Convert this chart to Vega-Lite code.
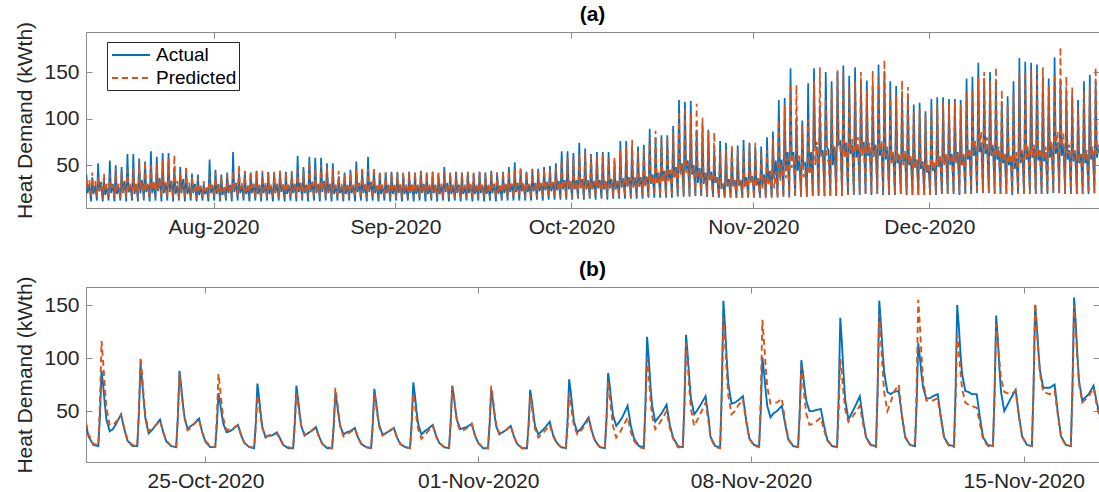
{
  "$schema": "https://vega.github.io/schema/vega-lite/v6.json",
  "background": "white",
  "padding": {"left": 14, "top": 3, "right": 1, "bottom": 2},
  "config": {
    "font": "Liberation Sans",
    "view": {"stroke": "#8c8c8c", "strokeWidth": 1},
    "concat": {"spacing": 20},
    "axis": {
      "grid": false,
      "domainColor": "#8c8c8c",
      "tickColor": "#8c8c8c",
      "tickSize": -6,
      "labelFont": "Liberation Sans",
      "labelFontSize": 21,
      "labelColor": "#262626",
      "titleFont": "Liberation Sans",
      "titleFontSize": 21,
      "titleFontWeight": "normal",
      "titleColor": "#262626"
    },
    "axisX": {"labelPadding": 14},
    "axisY": {"labelPadding": 13, "titlePadding": 8},
    "title": {"font": "Liberation Sans", "fontSize": 21, "fontWeight": "bold", "color": "#000000", "offset": -4},
    "legend": {
      "orient": "none",
      "legendX": 21,
      "legendY": 10,
      "fillColor": "white",
      "strokeColor": "#262626",
      "padding": 2,
      "symbolType": "M-1.9,0H1.9",
      "symbolSize": 400,
      "symbolStrokeWidth": 1.8,
      "symbolOffset": 11,
      "labelOffset": 14,
      "labelFont": "Liberation Sans",
      "labelFontSize": 19,
      "labelColor": "#000000",
      "rowPadding": 2
    }
  },
  "datasets": {
    "season": [
      {"t":"2020-07-10T03:00","a":12,"p":15},{"t":"2020-07-10T08:00","a":40,"p":36},{"t":"2020-07-10T13:00","a":20,"p":24},{"t":"2020-07-10T20:00","a":30,"p":34},
      {"t":"2020-07-11T03:00","a":11,"p":15},{"t":"2020-07-11T08:00","a":37,"p":42},{"t":"2020-07-11T13:00","a":19,"p":23},{"t":"2020-07-11T20:00","a":28,"p":33},
      {"t":"2020-07-12T03:00","a":12,"p":16},{"t":"2020-07-12T08:00","a":52,"p":38},{"t":"2020-07-12T13:00","a":22,"p":22},{"t":"2020-07-12T20:00","a":32,"p":30},
      {"t":"2020-07-13T03:00","a":11,"p":14},{"t":"2020-07-13T08:00","a":35,"p":41},{"t":"2020-07-13T13:00","a":18,"p":22},{"t":"2020-07-13T20:00","a":26,"p":30},
      {"t":"2020-07-14T03:00","a":12,"p":15},{"t":"2020-07-14T08:00","a":55,"p":40},{"t":"2020-07-14T13:00","a":20,"p":23},{"t":"2020-07-14T20:00","a":30,"p":28},
      {"t":"2020-07-15T03:00","a":11,"p":15},{"t":"2020-07-15T08:00","a":50,"p":46},{"t":"2020-07-15T13:00","a":19,"p":22},{"t":"2020-07-15T20:00","a":27,"p":30},
      {"t":"2020-07-16T03:00","a":12,"p":14},{"t":"2020-07-16T08:00","a":48,"p":42},{"t":"2020-07-16T13:00","a":20,"p":21},{"t":"2020-07-16T20:00","a":33,"p":29},
      {"t":"2020-07-17T03:00","a":11,"p":15},{"t":"2020-07-17T08:00","a":62,"p":45},{"t":"2020-07-17T13:00","a":21,"p":23},{"t":"2020-07-17T20:00","a":28,"p":30},
      {"t":"2020-07-18T03:00","a":12,"p":15},{"t":"2020-07-18T08:00","a":62,"p":48},{"t":"2020-07-18T13:00","a":19,"p":22},{"t":"2020-07-18T20:00","a":30,"p":31},
      {"t":"2020-07-19T03:00","a":11,"p":14},{"t":"2020-07-19T08:00","a":57,"p":53},{"t":"2020-07-19T13:00","a":20,"p":24},{"t":"2020-07-19T20:00","a":34,"p":32},
      {"t":"2020-07-20T03:00","a":12,"p":15},{"t":"2020-07-20T08:00","a":54,"p":54},{"t":"2020-07-20T13:00","a":21,"p":22},{"t":"2020-07-20T20:00","a":29,"p":30},
      {"t":"2020-07-21T03:00","a":11,"p":15},{"t":"2020-07-21T08:00","a":65,"p":50},{"t":"2020-07-21T13:00","a":20,"p":23},{"t":"2020-07-21T20:00","a":31,"p":33},
      {"t":"2020-07-22T03:00","a":12,"p":16},{"t":"2020-07-22T08:00","a":59,"p":51},{"t":"2020-07-22T13:00","a":22,"p":24},{"t":"2020-07-22T20:00","a":36,"p":34},
      {"t":"2020-07-23T03:00","a":11,"p":15},{"t":"2020-07-23T08:00","a":63,"p":55},{"t":"2020-07-23T13:00","a":20,"p":23},{"t":"2020-07-23T20:00","a":30,"p":32},
      {"t":"2020-07-24T03:00","a":12,"p":15},{"t":"2020-07-24T08:00","a":63,"p":58},{"t":"2020-07-24T13:00","a":21,"p":22},{"t":"2020-07-24T20:00","a":33,"p":31},
      {"t":"2020-07-25T03:00","a":11,"p":15},{"t":"2020-07-25T08:00","a":48,"p":61},{"t":"2020-07-25T13:00","a":19,"p":24},{"t":"2020-07-25T20:00","a":28,"p":33},
      {"t":"2020-07-26T03:00","a":12,"p":14},{"t":"2020-07-26T08:00","a":48,"p":42},{"t":"2020-07-26T13:00","a":20,"p":22},{"t":"2020-07-26T20:00","a":35,"p":30},
      {"t":"2020-07-27T03:00","a":11,"p":15},{"t":"2020-07-27T08:00","a":45,"p":49},{"t":"2020-07-27T13:00","a":19,"p":23},{"t":"2020-07-27T20:00","a":27,"p":31},
      {"t":"2020-07-28T03:00","a":12,"p":15},{"t":"2020-07-28T08:00","a":41,"p":38},{"t":"2020-07-28T13:00","a":20,"p":22},{"t":"2020-07-28T20:00","a":30,"p":29},
      {"t":"2020-07-29T03:00","a":11,"p":14},{"t":"2020-07-29T08:00","a":40,"p":36},{"t":"2020-07-29T13:00","a":18,"p":21},{"t":"2020-07-29T20:00","a":26,"p":28},
      {"t":"2020-07-30T03:00","a":12,"p":15},{"t":"2020-07-30T08:00","a":30,"p":33},{"t":"2020-07-30T13:00","a":19,"p":22},{"t":"2020-07-30T20:00","a":25,"p":28},
      {"t":"2020-07-31T03:00","a":11,"p":15},{"t":"2020-07-31T08:00","a":56,"p":38},{"t":"2020-07-31T13:00","a":20,"p":22},{"t":"2020-07-31T20:00","a":28,"p":29},
      {"t":"2020-08-01T03:00","a":12,"p":15},{"t":"2020-08-01T08:00","a":45,"p":42},{"t":"2020-08-01T13:00","a":19,"p":22},{"t":"2020-08-01T20:00","a":30,"p":30},
      {"t":"2020-08-02T03:00","a":11,"p":14},{"t":"2020-08-02T08:00","a":40,"p":38},{"t":"2020-08-02T13:00","a":18,"p":21},{"t":"2020-08-02T20:00","a":26,"p":28},
      {"t":"2020-08-03T03:00","a":12,"p":15},{"t":"2020-08-03T08:00","a":42,"p":40},{"t":"2020-08-03T13:00","a":20,"p":22},{"t":"2020-08-03T20:00","a":29,"p":29},
      {"t":"2020-08-04T03:00","a":11,"p":15},{"t":"2020-08-04T08:00","a":64,"p":44},{"t":"2020-08-04T13:00","a":21,"p":23},{"t":"2020-08-04T20:00","a":31,"p":30},
      {"t":"2020-08-05T03:00","a":12,"p":16},{"t":"2020-08-05T08:00","a":42,"p":50},{"t":"2020-08-05T13:00","a":20,"p":24},{"t":"2020-08-05T20:00","a":28,"p":31},
      {"t":"2020-08-06T03:00","a":12,"p":15},{"t":"2020-08-06T08:00","a":43,"p":44},{"t":"2020-08-06T13:00","a":19,"p":22},{"t":"2020-08-06T20:00","a":27,"p":29},
      {"t":"2020-08-07T03:00","a":11,"p":15},{"t":"2020-08-07T08:00","a":42,"p":43},{"t":"2020-08-07T13:00","a":20,"p":23},{"t":"2020-08-07T20:00","a":30,"p":30},
      {"t":"2020-08-08T03:00","a":12,"p":14},{"t":"2020-08-08T08:00","a":44,"p":43},{"t":"2020-08-08T13:00","a":19,"p":22},{"t":"2020-08-08T20:00","a":28,"p":29},
      {"t":"2020-08-09T03:00","a":11,"p":15},{"t":"2020-08-09T08:00","a":41,"p":44},{"t":"2020-08-09T13:00","a":20,"p":23},{"t":"2020-08-09T20:00","a":29,"p":31},
      {"t":"2020-08-10T03:00","a":12,"p":15},{"t":"2020-08-10T08:00","a":43,"p":42},{"t":"2020-08-10T13:00","a":19,"p":22},{"t":"2020-08-10T20:00","a":27,"p":29},
      {"t":"2020-08-11T03:00","a":11,"p":15},{"t":"2020-08-11T08:00","a":42,"p":43},{"t":"2020-08-11T13:00","a":20,"p":22},{"t":"2020-08-11T20:00","a":30,"p":30},
      {"t":"2020-08-12T03:00","a":12,"p":16},{"t":"2020-08-12T08:00","a":44,"p":44},{"t":"2020-08-12T13:00","a":21,"p":23},{"t":"2020-08-12T20:00","a":29,"p":31},
      {"t":"2020-08-13T03:00","a":11,"p":15},{"t":"2020-08-13T08:00","a":43,"p":42},{"t":"2020-08-13T13:00","a":19,"p":22},{"t":"2020-08-13T20:00","a":28,"p":29},
      {"t":"2020-08-14T03:00","a":12,"p":15},{"t":"2020-08-14T08:00","a":42,"p":44},{"t":"2020-08-14T13:00","a":20,"p":23},{"t":"2020-08-14T20:00","a":30,"p":30},
      {"t":"2020-08-15T03:00","a":11,"p":15},{"t":"2020-08-15T08:00","a":60,"p":45},{"t":"2020-08-15T13:00","a":21,"p":23},{"t":"2020-08-15T20:00","a":31,"p":30},
      {"t":"2020-08-16T03:00","a":12,"p":15},{"t":"2020-08-16T08:00","a":48,"p":44},{"t":"2020-08-16T13:00","a":20,"p":22},{"t":"2020-08-16T20:00","a":29,"p":29},
      {"t":"2020-08-17T03:00","a":11,"p":15},{"t":"2020-08-17T08:00","a":59,"p":54},{"t":"2020-08-17T13:00","a":21,"p":24},{"t":"2020-08-17T20:00","a":32,"p":31},
      {"t":"2020-08-18T03:00","a":12,"p":15},{"t":"2020-08-18T08:00","a":58,"p":47},{"t":"2020-08-18T13:00","a":20,"p":23},{"t":"2020-08-18T20:00","a":30,"p":30},
      {"t":"2020-08-19T03:00","a":11,"p":15},{"t":"2020-08-19T08:00","a":58,"p":50},{"t":"2020-08-19T13:00","a":21,"p":23},{"t":"2020-08-19T20:00","a":33,"p":31},
      {"t":"2020-08-20T03:00","a":12,"p":16},{"t":"2020-08-20T08:00","a":52,"p":48},{"t":"2020-08-20T13:00","a":20,"p":22},{"t":"2020-08-20T20:00","a":30,"p":30},
      {"t":"2020-08-21T03:00","a":11,"p":15},{"t":"2020-08-21T08:00","a":52,"p":46},{"t":"2020-08-21T13:00","a":19,"p":22},{"t":"2020-08-21T20:00","a":28,"p":29},
      {"t":"2020-08-22T03:00","a":12,"p":15},{"t":"2020-08-22T08:00","a":38,"p":44},{"t":"2020-08-22T13:00","a":20,"p":23},{"t":"2020-08-22T20:00","a":27,"p":30},
      {"t":"2020-08-23T03:00","a":11,"p":14},{"t":"2020-08-23T08:00","a":42,"p":40},{"t":"2020-08-23T13:00","a":19,"p":22},{"t":"2020-08-23T20:00","a":29,"p":28},
      {"t":"2020-08-24T03:00","a":12,"p":15},{"t":"2020-08-24T08:00","a":45,"p":42},{"t":"2020-08-24T13:00","a":20,"p":22},{"t":"2020-08-24T20:00","a":28,"p":29},
      {"t":"2020-08-25T03:00","a":11,"p":15},{"t":"2020-08-25T08:00","a":54,"p":45},{"t":"2020-08-25T13:00","a":21,"p":23},{"t":"2020-08-25T20:00","a":31,"p":30},
      {"t":"2020-08-26T03:00","a":12,"p":15},{"t":"2020-08-26T08:00","a":45,"p":48},{"t":"2020-08-26T13:00","a":20,"p":23},{"t":"2020-08-26T20:00","a":29,"p":31},
      {"t":"2020-08-27T03:00","a":11,"p":15},{"t":"2020-08-27T08:00","a":59,"p":46},{"t":"2020-08-27T13:00","a":21,"p":22},{"t":"2020-08-27T20:00","a":32,"p":30},
      {"t":"2020-08-28T03:00","a":12,"p":15},{"t":"2020-08-28T08:00","a":44,"p":48},{"t":"2020-08-28T13:00","a":20,"p":23},{"t":"2020-08-28T20:00","a":28,"p":30},
      {"t":"2020-08-29T03:00","a":11,"p":15},{"t":"2020-08-29T08:00","a":42,"p":43},{"t":"2020-08-29T13:00","a":19,"p":22},{"t":"2020-08-29T20:00","a":27,"p":29},
      {"t":"2020-08-30T03:00","a":12,"p":15},{"t":"2020-08-30T08:00","a":42,"p":42},{"t":"2020-08-30T13:00","a":20,"p":22},{"t":"2020-08-30T20:00","a":29,"p":29},
      {"t":"2020-08-31T03:00","a":11,"p":15},{"t":"2020-08-31T08:00","a":43,"p":42},{"t":"2020-08-31T13:00","a":19,"p":22},{"t":"2020-08-31T20:00","a":28,"p":29},
      {"t":"2020-09-01T03:00","a":12,"p":15},{"t":"2020-09-01T08:00","a":42,"p":43},{"t":"2020-09-01T13:00","a":20,"p":23},{"t":"2020-09-01T20:00","a":29,"p":30},
      {"t":"2020-09-02T03:00","a":11,"p":15},{"t":"2020-09-02T08:00","a":41,"p":42},{"t":"2020-09-02T13:00","a":19,"p":22},{"t":"2020-09-02T20:00","a":27,"p":29},
      {"t":"2020-09-03T03:00","a":12,"p":15},{"t":"2020-09-03T08:00","a":43,"p":43},{"t":"2020-09-03T13:00","a":20,"p":22},{"t":"2020-09-03T20:00","a":29,"p":30},
      {"t":"2020-09-04T03:00","a":11,"p":15},{"t":"2020-09-04T08:00","a":42,"p":42},{"t":"2020-09-04T13:00","a":19,"p":22},{"t":"2020-09-04T20:00","a":28,"p":29},
      {"t":"2020-09-05T03:00","a":12,"p":15},{"t":"2020-09-05T08:00","a":44,"p":43},{"t":"2020-09-05T13:00","a":20,"p":23},{"t":"2020-09-05T20:00","a":30,"p":30},
      {"t":"2020-09-06T03:00","a":11,"p":15},{"t":"2020-09-06T08:00","a":42,"p":42},{"t":"2020-09-06T13:00","a":19,"p":22},{"t":"2020-09-06T20:00","a":27,"p":29},
      {"t":"2020-09-07T03:00","a":12,"p":15},{"t":"2020-09-07T08:00","a":43,"p":43},{"t":"2020-09-07T13:00","a":20,"p":22},{"t":"2020-09-07T20:00","a":29,"p":29},
      {"t":"2020-09-08T03:00","a":11,"p":15},{"t":"2020-09-08T08:00","a":41,"p":42},{"t":"2020-09-08T13:00","a":19,"p":22},{"t":"2020-09-08T20:00","a":28,"p":30},
      {"t":"2020-09-09T03:00","a":12,"p":15},{"t":"2020-09-09T08:00","a":48,"p":43},{"t":"2020-09-09T13:00","a":21,"p":23},{"t":"2020-09-09T20:00","a":31,"p":30},
      {"t":"2020-09-10T03:00","a":11,"p":15},{"t":"2020-09-10T08:00","a":42,"p":42},{"t":"2020-09-10T13:00","a":19,"p":22},{"t":"2020-09-10T20:00","a":28,"p":29},
      {"t":"2020-09-11T03:00","a":12,"p":15},{"t":"2020-09-11T08:00","a":43,"p":43},{"t":"2020-09-11T13:00","a":20,"p":22},{"t":"2020-09-11T20:00","a":29,"p":29},
      {"t":"2020-09-12T03:00","a":11,"p":15},{"t":"2020-09-12T08:00","a":42,"p":42},{"t":"2020-09-12T13:00","a":19,"p":22},{"t":"2020-09-12T20:00","a":27,"p":29},
      {"t":"2020-09-13T03:00","a":12,"p":15},{"t":"2020-09-13T08:00","a":43,"p":43},{"t":"2020-09-13T13:00","a":20,"p":23},{"t":"2020-09-13T20:00","a":29,"p":30},
      {"t":"2020-09-14T03:00","a":11,"p":15},{"t":"2020-09-14T08:00","a":41,"p":42},{"t":"2020-09-14T13:00","a":19,"p":22},{"t":"2020-09-14T20:00","a":28,"p":29},
      {"t":"2020-09-15T03:00","a":12,"p":15},{"t":"2020-09-15T08:00","a":43,"p":43},{"t":"2020-09-15T13:00","a":20,"p":22},{"t":"2020-09-15T20:00","a":29,"p":29},
      {"t":"2020-09-16T03:00","a":11,"p":15},{"t":"2020-09-16T08:00","a":42,"p":42},{"t":"2020-09-16T13:00","a":19,"p":22},{"t":"2020-09-16T20:00","a":28,"p":29},
      {"t":"2020-09-17T03:00","a":12,"p":15},{"t":"2020-09-17T08:00","a":44,"p":43},{"t":"2020-09-17T13:00","a":20,"p":23},{"t":"2020-09-17T20:00","a":30,"p":30},
      {"t":"2020-09-18T03:00","a":11,"p":15},{"t":"2020-09-18T08:00","a":42,"p":42},{"t":"2020-09-18T13:00","a":19,"p":22},{"t":"2020-09-18T20:00","a":28,"p":29},
      {"t":"2020-09-19T03:00","a":12,"p":15},{"t":"2020-09-19T08:00","a":43,"p":43},{"t":"2020-09-19T13:00","a":20,"p":22},{"t":"2020-09-19T20:00","a":29,"p":30},
      {"t":"2020-09-20T03:00","a":12,"p":15},{"t":"2020-09-20T08:00","a":48,"p":44},{"t":"2020-09-20T13:00","a":21,"p":23},{"t":"2020-09-20T20:00","a":30,"p":30},
      {"t":"2020-09-21T03:00","a":12,"p":15},{"t":"2020-09-21T08:00","a":53,"p":45},{"t":"2020-09-21T13:00","a":21,"p":23},{"t":"2020-09-21T20:00","a":31,"p":31},
      {"t":"2020-09-22T03:00","a":12,"p":16},{"t":"2020-09-22T08:00","a":46,"p":48},{"t":"2020-09-22T13:00","a":22,"p":24},{"t":"2020-09-22T20:00","a":30,"p":31},
      {"t":"2020-09-23T03:00","a":12,"p":15},{"t":"2020-09-23T08:00","a":43,"p":43},{"t":"2020-09-23T13:00","a":21,"p":23},{"t":"2020-09-23T20:00","a":29,"p":30},
      {"t":"2020-09-24T03:00","a":12,"p":16},{"t":"2020-09-24T08:00","a":46,"p":45},{"t":"2020-09-24T13:00","a":22,"p":24},{"t":"2020-09-24T20:00","a":31,"p":31},
      {"t":"2020-09-25T03:00","a":13,"p":16},{"t":"2020-09-25T08:00","a":46,"p":44},{"t":"2020-09-25T13:00","a":22,"p":24},{"t":"2020-09-25T20:00","a":30,"p":31},
      {"t":"2020-09-26T03:00","a":12,"p":16},{"t":"2020-09-26T08:00","a":48,"p":46},{"t":"2020-09-26T13:00","a":23,"p":24},{"t":"2020-09-26T20:00","a":32,"p":31},
      {"t":"2020-09-27T03:00","a":13,"p":16},{"t":"2020-09-27T08:00","a":49,"p":46},{"t":"2020-09-27T13:00","a":22,"p":24},{"t":"2020-09-27T20:00","a":31,"p":32},
      {"t":"2020-09-28T03:00","a":13,"p":16},{"t":"2020-09-28T08:00","a":52,"p":48},{"t":"2020-09-28T13:00","a":23,"p":25},{"t":"2020-09-28T20:00","a":33,"p":32},
      {"t":"2020-09-29T03:00","a":13,"p":16},{"t":"2020-09-29T08:00","a":65,"p":55},{"t":"2020-09-29T13:00","a":24,"p":25},{"t":"2020-09-29T20:00","a":34,"p":33},
      {"t":"2020-09-30T03:00","a":13,"p":16},{"t":"2020-09-30T08:00","a":65,"p":58},{"t":"2020-09-30T13:00","a":24,"p":26},{"t":"2020-09-30T20:00","a":33,"p":33},
      {"t":"2020-10-01T03:00","a":13,"p":16},{"t":"2020-10-01T08:00","a":63,"p":58},{"t":"2020-10-01T13:00","a":24,"p":26},{"t":"2020-10-01T20:00","a":34,"p":33},
      {"t":"2020-10-02T03:00","a":14,"p":16},{"t":"2020-10-02T08:00","a":74,"p":62},{"t":"2020-10-02T13:00","a":25,"p":26},{"t":"2020-10-02T20:00","a":35,"p":34},
      {"t":"2020-10-03T03:00","a":13,"p":16},{"t":"2020-10-03T08:00","a":68,"p":65},{"t":"2020-10-03T13:00","a":24,"p":26},{"t":"2020-10-03T20:00","a":33,"p":34},
      {"t":"2020-10-04T03:00","a":14,"p":16},{"t":"2020-10-04T08:00","a":62,"p":60},{"t":"2020-10-04T13:00","a":24,"p":25},{"t":"2020-10-04T20:00","a":33,"p":33},
      {"t":"2020-10-05T03:00","a":13,"p":16},{"t":"2020-10-05T08:00","a":64,"p":60},{"t":"2020-10-05T13:00","a":25,"p":26},{"t":"2020-10-05T20:00","a":34,"p":33},
      {"t":"2020-10-06T03:00","a":14,"p":16},{"t":"2020-10-06T08:00","a":64,"p":62},{"t":"2020-10-06T13:00","a":24,"p":26},{"t":"2020-10-06T20:00","a":33,"p":34},
      {"t":"2020-10-07T03:00","a":13,"p":16},{"t":"2020-10-07T08:00","a":64,"p":58},{"t":"2020-10-07T13:00","a":25,"p":26},{"t":"2020-10-07T20:00","a":35,"p":33},
      {"t":"2020-10-08T03:00","a":14,"p":16},{"t":"2020-10-08T08:00","a":55,"p":58},{"t":"2020-10-08T13:00","a":24,"p":25},{"t":"2020-10-08T20:00","a":33,"p":33},
      {"t":"2020-10-09T03:00","a":14,"p":16},{"t":"2020-10-09T08:00","a":76,"p":66},{"t":"2020-10-09T13:00","a":26,"p":27},{"t":"2020-10-09T20:00","a":36,"p":35},
      {"t":"2020-10-10T03:00","a":14,"p":17},{"t":"2020-10-10T08:00","a":76,"p":70},{"t":"2020-10-10T13:00","a":27,"p":27},{"t":"2020-10-10T20:00","a":37,"p":36},
      {"t":"2020-10-11T03:00","a":14,"p":16},{"t":"2020-10-11T08:00","a":70,"p":77},{"t":"2020-10-11T13:00","a":26,"p":28},{"t":"2020-10-11T20:00","a":36,"p":37},
      {"t":"2020-10-12T03:00","a":14,"p":17},{"t":"2020-10-12T08:00","a":70,"p":66},{"t":"2020-10-12T13:00","a":27,"p":27},{"t":"2020-10-12T20:00","a":37,"p":36},
      {"t":"2020-10-13T03:00","a":14,"p":17},{"t":"2020-10-13T08:00","a":72,"p":68},{"t":"2020-10-13T13:00","a":28,"p":28},{"t":"2020-10-13T20:00","a":38,"p":37},
      {"t":"2020-10-14T03:00","a":15,"p":17},{"t":"2020-10-14T08:00","a":89,"p":80},{"t":"2020-10-14T13:00","a":30,"p":30},{"t":"2020-10-14T20:00","a":40,"p":39},
      {"t":"2020-10-15T03:00","a":15,"p":17},{"t":"2020-10-15T08:00","a":80,"p":87},{"t":"2020-10-15T13:00","a":31,"p":31},{"t":"2020-10-15T20:00","a":42,"p":41},
      {"t":"2020-10-16T03:00","a":15,"p":17},{"t":"2020-10-16T08:00","a":82,"p":78},{"t":"2020-10-16T13:00","a":33,"p":32},{"t":"2020-10-16T20:00","a":44,"p":42},
      {"t":"2020-10-17T03:00","a":15,"p":17},{"t":"2020-10-17T08:00","a":82,"p":80},{"t":"2020-10-17T13:00","a":34,"p":33},{"t":"2020-10-17T20:00","a":45,"p":44},
      {"t":"2020-10-18T03:00","a":15,"p":17},{"t":"2020-10-18T08:00","a":92,"p":85},{"t":"2020-10-18T13:00","a":37,"p":36},{"t":"2020-10-18T20:00","a":48,"p":46},
      {"t":"2020-10-19T03:00","a":16,"p":17},{"t":"2020-10-19T08:00","a":120,"p":108},{"t":"2020-10-19T13:00","a":42,"p":40},{"t":"2020-10-19T20:00","a":52,"p":50},
      {"t":"2020-10-20T03:00","a":16,"p":18},{"t":"2020-10-20T08:00","a":118,"p":112},{"t":"2020-10-20T13:00","a":45,"p":42},{"t":"2020-10-20T20:00","a":55,"p":52},
      {"t":"2020-10-21T03:00","a":16,"p":18},{"t":"2020-10-21T08:00","a":119,"p":105},{"t":"2020-10-21T13:00","a":40,"p":40},{"t":"2020-10-21T20:00","a":50,"p":48},
      {"t":"2020-10-22T03:00","a":17,"p":18},{"t":"2020-10-22T08:00","a":88,"p":116},{"t":"2020-10-22T13:00","a":31,"p":37},{"t":"2020-10-22T20:00","a":47,"p":46},
      {"t":"2020-10-23T03:00","a":17,"p":17},{"t":"2020-10-23T08:00","a":94,"p":101},{"t":"2020-10-23T13:00","a":30,"p":32},{"t":"2020-10-23T20:00","a":42,"p":41},
      {"t":"2020-10-24T03:00","a":16,"p":17},{"t":"2020-10-24T08:00","a":88,"p":86},{"t":"2020-10-24T13:00","a":34,"p":33},{"t":"2020-10-24T20:00","a":43,"p":42},
      {"t":"2020-10-25T03:00","a":16,"p":16},{"t":"2020-10-25T08:00","a":67,"p":85},{"t":"2020-10-25T13:00","a":31,"p":33},{"t":"2020-10-25T20:00","a":37,"p":37},
      {"t":"2020-10-26T03:00","a":15,"p":16},{"t":"2020-10-26T08:00","a":76,"p":65},{"t":"2020-10-26T13:00","a":25,"p":26},{"t":"2020-10-26T20:00","a":30,"p":29},
      {"t":"2020-10-27T03:00","a":15,"p":15},{"t":"2020-10-27T08:00","a":74,"p":67},{"t":"2020-10-27T13:00","a":27,"p":28},{"t":"2020-10-27T20:00","a":35,"p":34},
      {"t":"2020-10-28T03:00","a":15,"p":15},{"t":"2020-10-28T08:00","a":67,"p":72},{"t":"2020-10-28T13:00","a":28,"p":27},{"t":"2020-10-28T20:00","a":34,"p":33},
      {"t":"2020-10-29T03:00","a":15,"p":15},{"t":"2020-10-29T08:00","a":71,"p":66},{"t":"2020-10-29T13:00","a":28,"p":27},{"t":"2020-10-29T20:00","a":34,"p":34},
      {"t":"2020-10-30T03:00","a":15,"p":15},{"t":"2020-10-30T08:00","a":77,"p":66},{"t":"2020-10-30T13:00","a":28,"p":25},{"t":"2020-10-30T20:00","a":37,"p":36},
      {"t":"2020-10-31T03:00","a":15,"p":15},{"t":"2020-10-31T08:00","a":74,"p":73},{"t":"2020-10-31T13:00","a":33,"p":31},{"t":"2020-10-31T20:00","a":38,"p":38},
      {"t":"2020-11-01T03:00","a":15,"p":15},{"t":"2020-11-01T08:00","a":70,"p":74},{"t":"2020-11-01T13:00","a":28,"p":29},{"t":"2020-11-01T20:00","a":36,"p":36},
      {"t":"2020-11-02T03:00","a":15,"p":15},{"t":"2020-11-02T08:00","a":70,"p":64},{"t":"2020-11-02T13:00","a":28,"p":25},{"t":"2020-11-02T20:00","a":40,"p":37},
      {"t":"2020-11-03T03:00","a":15,"p":15},{"t":"2020-11-03T08:00","a":80,"p":66},{"t":"2020-11-03T13:00","a":30,"p":28},{"t":"2020-11-03T20:00","a":44,"p":42},
      {"t":"2020-11-04T03:00","a":15,"p":15},{"t":"2020-11-04T08:00","a":86,"p":78},{"t":"2020-11-04T13:00","a":36,"p":25},{"t":"2020-11-04T20:00","a":55,"p":44},
      {"t":"2020-11-05T03:00","a":16,"p":15},{"t":"2020-11-05T08:00","a":120,"p":99},{"t":"2020-11-05T13:00","a":40,"p":33},{"t":"2020-11-05T20:00","a":56,"p":50},
      {"t":"2020-11-06T03:00","a":16,"p":15},{"t":"2020-11-06T08:00","a":122,"p":114},{"t":"2020-11-06T13:00","a":47,"p":36},{"t":"2020-11-06T20:00","a":64,"p":58},
      {"t":"2020-11-07T03:00","a":16,"p":15},{"t":"2020-11-07T08:00","a":154,"p":138},{"t":"2020-11-07T13:00","a":57,"p":47},{"t":"2020-11-07T20:00","a":64,"p":61},
      {"t":"2020-11-08T03:00","a":17,"p":16},{"t":"2020-11-08T08:00","a":101,"p":136},{"t":"2020-11-08T13:00","a":44,"p":57},{"t":"2020-11-08T20:00","a":55,"p":62},
      {"t":"2020-11-09T03:00","a":16,"p":16},{"t":"2020-11-09T08:00","a":98,"p":92},{"t":"2020-11-09T13:00","a":50,"p":37},{"t":"2020-11-09T20:00","a":52,"p":44},
      {"t":"2020-11-10T03:00","a":16,"p":16},{"t":"2020-11-10T08:00","a":138,"p":99},{"t":"2020-11-10T13:00","a":42,"p":40},{"t":"2020-11-10T20:00","a":64,"p":55},
      {"t":"2020-11-11T03:00","a":17,"p":16},{"t":"2020-11-11T08:00","a":154,"p":141},{"t":"2020-11-11T13:00","a":70,"p":50},{"t":"2020-11-11T20:00","a":69,"p":75},
      {"t":"2020-11-12T03:00","a":17,"p":17},{"t":"2020-11-12T08:00","a":114,"p":155},{"t":"2020-11-12T13:00","a":62,"p":60},{"t":"2020-11-12T20:00","a":66,"p":62},
      {"t":"2020-11-13T03:00","a":17,"p":16},{"t":"2020-11-13T08:00","a":150,"p":122},{"t":"2020-11-13T13:00","a":69,"p":58},{"t":"2020-11-13T20:00","a":66,"p":53},
      {"t":"2020-11-14T03:00","a":17,"p":16},{"t":"2020-11-14T08:00","a":140,"p":132},{"t":"2020-11-14T13:00","a":50,"p":68},{"t":"2020-11-14T20:00","a":70,"p":69},
      {"t":"2020-11-15T03:00","a":17,"p":17},{"t":"2020-11-15T08:00","a":150,"p":152},{"t":"2020-11-15T13:00","a":72,"p":68},{"t":"2020-11-15T20:00","a":75,"p":69},
      {"t":"2020-11-16T03:00","a":17,"p":17},{"t":"2020-11-16T08:00","a":157,"p":150},{"t":"2020-11-16T13:00","a":60,"p":58},{"t":"2020-11-16T20:00","a":74,"p":72},
      {"t":"2020-11-17T03:00","a":18,"p":18},{"t":"2020-11-17T08:00","a":146,"p":135},{"t":"2020-11-17T13:00","a":62,"p":64},{"t":"2020-11-17T20:00","a":72,"p":78},
      {"t":"2020-11-18T03:00","a":18,"p":18},{"t":"2020-11-18T08:00","a":155,"p":140},{"t":"2020-11-18T13:00","a":58,"p":66},{"t":"2020-11-18T20:00","a":70,"p":80},
      {"t":"2020-11-19T03:00","a":18,"p":19},{"t":"2020-11-19T08:00","a":140,"p":150},{"t":"2020-11-19T13:00","a":65,"p":60},{"t":"2020-11-19T20:00","a":75,"p":72},
      {"t":"2020-11-20T03:00","a":19,"p":18},{"t":"2020-11-20T08:00","a":141,"p":130},{"t":"2020-11-20T13:00","a":60,"p":62},{"t":"2020-11-20T20:00","a":68,"p":74},
      {"t":"2020-11-21T03:00","a":18,"p":19},{"t":"2020-11-21T08:00","a":135,"p":151},{"t":"2020-11-21T13:00","a":62,"p":58},{"t":"2020-11-21T20:00","a":72,"p":70},
      {"t":"2020-11-22T03:00","a":19,"p":19},{"t":"2020-11-22T08:00","a":158,"p":145},{"t":"2020-11-22T13:00","a":60,"p":64},{"t":"2020-11-22T20:00","a":70,"p":76},
      {"t":"2020-11-23T03:00","a":18,"p":19},{"t":"2020-11-23T08:00","a":150,"p":163},{"t":"2020-11-23T13:00","a":56,"p":60},{"t":"2020-11-23T20:00","a":66,"p":70},
      {"t":"2020-11-24T03:00","a":18,"p":18},{"t":"2020-11-24T08:00","a":140,"p":128},{"t":"2020-11-24T13:00","a":55,"p":52},{"t":"2020-11-24T20:00","a":62,"p":64},
      {"t":"2020-11-25T03:00","a":18,"p":19},{"t":"2020-11-25T08:00","a":135,"p":125},{"t":"2020-11-25T13:00","a":52,"p":56},{"t":"2020-11-25T20:00","a":60,"p":62},
      {"t":"2020-11-26T03:00","a":19,"p":19},{"t":"2020-11-26T08:00","a":128,"p":141},{"t":"2020-11-26T13:00","a":54,"p":50},{"t":"2020-11-26T20:00","a":62,"p":66},
      {"t":"2020-11-27T03:00","a":18,"p":18},{"t":"2020-11-27T08:00","a":125,"p":134},{"t":"2020-11-27T13:00","a":50,"p":52},{"t":"2020-11-27T20:00","a":58,"p":60},
      {"t":"2020-11-28T03:00","a":18,"p":18},{"t":"2020-11-28T08:00","a":115,"p":108},{"t":"2020-11-28T13:00","a":48,"p":46},{"t":"2020-11-28T20:00","a":56,"p":58},
      {"t":"2020-11-29T03:00","a":18,"p":18},{"t":"2020-11-29T08:00","a":117,"p":110},{"t":"2020-11-29T13:00","a":46,"p":48},{"t":"2020-11-29T20:00","a":54,"p":52},
      {"t":"2020-11-30T03:00","a":18,"p":18},{"t":"2020-11-30T08:00","a":108,"p":104},{"t":"2020-11-30T13:00","a":42,"p":44},{"t":"2020-11-30T20:00","a":50,"p":52},
      {"t":"2020-12-01T03:00","a":18,"p":18},{"t":"2020-12-01T08:00","a":121,"p":112},{"t":"2020-12-01T13:00","a":44,"p":46},{"t":"2020-12-01T20:00","a":52,"p":55},
      {"t":"2020-12-02T03:00","a":18,"p":19},{"t":"2020-12-02T08:00","a":123,"p":115},{"t":"2020-12-02T13:00","a":48,"p":50},{"t":"2020-12-02T20:00","a":58,"p":60},
      {"t":"2020-12-03T03:00","a":19,"p":19},{"t":"2020-12-03T08:00","a":123,"p":118},{"t":"2020-12-03T13:00","a":52,"p":50},{"t":"2020-12-03T20:00","a":60,"p":62},
      {"t":"2020-12-04T03:00","a":19,"p":19},{"t":"2020-12-04T08:00","a":121,"p":116},{"t":"2020-12-04T13:00","a":50,"p":54},{"t":"2020-12-04T20:00","a":62,"p":60},
      {"t":"2020-12-05T03:00","a":19,"p":19},{"t":"2020-12-05T08:00","a":121,"p":118},{"t":"2020-12-05T13:00","a":54,"p":52},{"t":"2020-12-05T20:00","a":64,"p":62},
      {"t":"2020-12-06T03:00","a":18,"p":19},{"t":"2020-12-06T08:00","a":120,"p":115},{"t":"2020-12-06T13:00","a":50,"p":50},{"t":"2020-12-06T20:00","a":60,"p":62},
      {"t":"2020-12-07T03:00","a":19,"p":19},{"t":"2020-12-07T08:00","a":143,"p":128},{"t":"2020-12-07T13:00","a":56,"p":58},{"t":"2020-12-07T20:00","a":66,"p":68},
      {"t":"2020-12-08T03:00","a":19,"p":20},{"t":"2020-12-08T08:00","a":145,"p":132},{"t":"2020-12-08T13:00","a":60,"p":62},{"t":"2020-12-08T20:00","a":70,"p":76},
      {"t":"2020-12-09T03:00","a":20,"p":20},{"t":"2020-12-09T08:00","a":160,"p":145},{"t":"2020-12-09T13:00","a":64,"p":70},{"t":"2020-12-09T20:00","a":74,"p":86},
      {"t":"2020-12-10T03:00","a":20,"p":20},{"t":"2020-12-10T08:00","a":143,"p":150},{"t":"2020-12-10T13:00","a":62,"p":66},{"t":"2020-12-10T20:00","a":72,"p":80},
      {"t":"2020-12-11T03:00","a":20,"p":20},{"t":"2020-12-11T08:00","a":150,"p":140},{"t":"2020-12-11T13:00","a":60,"p":62},{"t":"2020-12-11T20:00","a":70,"p":72},
      {"t":"2020-12-12T03:00","a":19,"p":20},{"t":"2020-12-12T08:00","a":140,"p":155},{"t":"2020-12-12T13:00","a":56,"p":60},{"t":"2020-12-12T20:00","a":66,"p":70},
      {"t":"2020-12-13T03:00","a":19,"p":19},{"t":"2020-12-13T08:00","a":118,"p":131},{"t":"2020-12-13T13:00","a":52,"p":54},{"t":"2020-12-13T20:00","a":62,"p":64},
      {"t":"2020-12-14T03:00","a":19,"p":19},{"t":"2020-12-14T08:00","a":124,"p":115},{"t":"2020-12-14T13:00","a":50,"p":52},{"t":"2020-12-14T20:00","a":60,"p":62},
      {"t":"2020-12-15T03:00","a":18,"p":19},{"t":"2020-12-15T08:00","a":140,"p":128},{"t":"2020-12-15T13:00","a":46,"p":52},{"t":"2020-12-15T20:00","a":58,"p":64},
      {"t":"2020-12-16T03:00","a":19,"p":19},{"t":"2020-12-16T08:00","a":165,"p":150},{"t":"2020-12-16T13:00","a":52,"p":56},{"t":"2020-12-16T20:00","a":64,"p":66},
      {"t":"2020-12-17T03:00","a":19,"p":19},{"t":"2020-12-17T08:00","a":161,"p":150},{"t":"2020-12-17T13:00","a":56,"p":58},{"t":"2020-12-17T20:00","a":66,"p":70},
      {"t":"2020-12-18T03:00","a":19,"p":20},{"t":"2020-12-18T08:00","a":160,"p":152},{"t":"2020-12-18T13:00","a":58,"p":60},{"t":"2020-12-18T20:00","a":68,"p":72},
      {"t":"2020-12-19T03:00","a":19,"p":19},{"t":"2020-12-19T08:00","a":158,"p":150},{"t":"2020-12-19T13:00","a":55,"p":58},{"t":"2020-12-19T20:00","a":66,"p":68},
      {"t":"2020-12-20T03:00","a":19,"p":19},{"t":"2020-12-20T08:00","a":145,"p":155},{"t":"2020-12-20T13:00","a":54,"p":58},{"t":"2020-12-20T20:00","a":64,"p":70},
      {"t":"2020-12-21T03:00","a":19,"p":20},{"t":"2020-12-21T08:00","a":143,"p":135},{"t":"2020-12-21T13:00","a":58,"p":62},{"t":"2020-12-21T20:00","a":70,"p":76},
      {"t":"2020-12-22T03:00","a":20,"p":20},{"t":"2020-12-22T08:00","a":166,"p":148},{"t":"2020-12-22T13:00","a":62,"p":68},{"t":"2020-12-22T20:00","a":74,"p":86},
      {"t":"2020-12-23T03:00","a":20,"p":20},{"t":"2020-12-23T08:00","a":140,"p":177},{"t":"2020-12-23T13:00","a":60,"p":70},{"t":"2020-12-23T20:00","a":72,"p":84},
      {"t":"2020-12-24T03:00","a":19,"p":20},{"t":"2020-12-24T08:00","a":130,"p":145},{"t":"2020-12-24T13:00","a":56,"p":62},{"t":"2020-12-24T20:00","a":66,"p":72},
      {"t":"2020-12-25T03:00","a":19,"p":19},{"t":"2020-12-25T08:00","a":125,"p":134},{"t":"2020-12-25T13:00","a":54,"p":56},{"t":"2020-12-25T20:00","a":64,"p":66},
      {"t":"2020-12-26T03:00","a":19,"p":19},{"t":"2020-12-26T08:00","a":120,"p":112},{"t":"2020-12-26T13:00","a":52,"p":54},{"t":"2020-12-26T20:00","a":62,"p":62},
      {"t":"2020-12-27T03:00","a":19,"p":19},{"t":"2020-12-27T08:00","a":140,"p":130},{"t":"2020-12-27T13:00","a":52,"p":56},{"t":"2020-12-27T20:00","a":62,"p":66},
      {"t":"2020-12-28T03:00","a":19,"p":20},{"t":"2020-12-28T08:00","a":147,"p":135},{"t":"2020-12-28T13:00","a":56,"p":60},{"t":"2020-12-28T20:00","a":66,"p":70},
      {"t":"2020-12-29T03:00","a":20,"p":20},{"t":"2020-12-29T08:00","a":140,"p":155},{"t":"2020-12-29T13:00","a":58,"p":62},{"t":"2020-12-29T20:00","a":68,"p":72}
    ],
    "detail": [
      {"t":"2020-10-21T20:00","a":46,"p":47},{"t":"2020-10-21T22:00","a":40,"p":42},
      {"t":"2020-10-22T00:00","a":26,"p":28},{"t":"2020-10-22T03:00","a":18,"p":19},{"t":"2020-10-22T06:00","a":17,"p":18},{"t":"2020-10-22T07:00","a":45,"p":57},{"t":"2020-10-22T08:00","a":88,"p":116},{"t":"2020-10-22T09:00","a":74,"p":96},{"t":"2020-10-22T10:00","a":57,"p":73},{"t":"2020-10-22T11:00","a":42,"p":53},{"t":"2020-10-22T13:00","a":31,"p":37},{"t":"2020-10-22T15:00","a":33,"p":37},{"t":"2020-10-22T17:00","a":38,"p":40},{"t":"2020-10-22T20:00","a":47,"p":46},{"t":"2020-10-22T22:00","a":33,"p":34},
      {"t":"2020-10-23T00:00","a":22,"p":23},{"t":"2020-10-23T03:00","a":17,"p":18},{"t":"2020-10-23T06:00","a":17,"p":17},{"t":"2020-10-23T07:00","a":48,"p":51},{"t":"2020-10-23T08:00","a":94,"p":101},{"t":"2020-10-23T09:00","a":78,"p":84},{"t":"2020-10-23T10:00","a":59,"p":63},{"t":"2020-10-23T11:00","a":43,"p":46},{"t":"2020-10-23T13:00","a":29,"p":31},{"t":"2020-10-23T15:00","a":32,"p":33},{"t":"2020-10-23T17:00","a":36,"p":36},{"t":"2020-10-23T20:00","a":42,"p":41},{"t":"2020-10-23T22:00","a":30,"p":30},
      {"t":"2020-10-24T00:00","a":21,"p":22},{"t":"2020-10-24T03:00","a":17,"p":17},{"t":"2020-10-24T06:00","a":16,"p":17},{"t":"2020-10-24T07:00","a":45,"p":44},{"t":"2020-10-24T08:00","a":88,"p":86},{"t":"2020-10-24T09:00","a":74,"p":73},{"t":"2020-10-24T10:00","a":58,"p":57},{"t":"2020-10-24T11:00","a":45,"p":44},{"t":"2020-10-24T13:00","a":33,"p":32},{"t":"2020-10-24T15:00","a":36,"p":34},{"t":"2020-10-24T17:00","a":38,"p":38},{"t":"2020-10-24T20:00","a":43,"p":42},{"t":"2020-10-24T22:00","a":30,"p":30},
      {"t":"2020-10-25T00:00","a":21,"p":22},{"t":"2020-10-25T03:00","a":16,"p":17},{"t":"2020-10-25T06:00","a":16,"p":16},{"t":"2020-10-25T07:00","a":36,"p":44},{"t":"2020-10-25T08:00","a":67,"p":85},{"t":"2020-10-25T09:00","a":58,"p":72},{"t":"2020-10-25T10:00","a":47,"p":56},{"t":"2020-10-25T11:00","a":38,"p":43},{"t":"2020-10-25T13:00","a":30,"p":32},{"t":"2020-10-25T15:00","a":31,"p":33},{"t":"2020-10-25T17:00","a":33,"p":34},{"t":"2020-10-25T20:00","a":37,"p":37},{"t":"2020-10-25T22:00","a":27,"p":27},
      {"t":"2020-10-26T00:00","a":20,"p":20},{"t":"2020-10-26T03:00","a":16,"p":16},{"t":"2020-10-26T06:00","a":15,"p":16},{"t":"2020-10-26T07:00","a":39,"p":36},{"t":"2020-10-26T08:00","a":76,"p":65},{"t":"2020-10-26T09:00","a":63,"p":55},{"t":"2020-10-26T10:00","a":48,"p":44},{"t":"2020-10-26T11:00","a":35,"p":34},{"t":"2020-10-26T13:00","a":25,"p":26},{"t":"2020-10-26T15:00","a":27,"p":27},{"t":"2020-10-26T17:00","a":27,"p":27},{"t":"2020-10-26T20:00","a":30,"p":29},{"t":"2020-10-26T22:00","a":24,"p":23},
      {"t":"2020-10-27T00:00","a":18,"p":18},{"t":"2020-10-27T03:00","a":15,"p":16},{"t":"2020-10-27T06:00","a":15,"p":15},{"t":"2020-10-27T07:00","a":39,"p":36},{"t":"2020-10-27T08:00","a":74,"p":67},{"t":"2020-10-27T09:00","a":62,"p":57},{"t":"2020-10-27T10:00","a":48,"p":46},{"t":"2020-10-27T11:00","a":36,"p":36},{"t":"2020-10-27T13:00","a":27,"p":28},{"t":"2020-10-27T15:00","a":29,"p":29},{"t":"2020-10-27T17:00","a":31,"p":31},{"t":"2020-10-27T20:00","a":35,"p":34},{"t":"2020-10-27T22:00","a":26,"p":25},
      {"t":"2020-10-28T00:00","a":19,"p":19},{"t":"2020-10-28T03:00","a":15,"p":16},{"t":"2020-10-28T06:00","a":15,"p":15},{"t":"2020-10-28T07:00","a":36,"p":38},{"t":"2020-10-28T08:00","a":67,"p":72},{"t":"2020-10-28T09:00","a":57,"p":61},{"t":"2020-10-28T10:00","a":46,"p":47},{"t":"2020-10-28T11:00","a":36,"p":36},{"t":"2020-10-28T13:00","a":28,"p":26},{"t":"2020-10-28T15:00","a":30,"p":28},{"t":"2020-10-28T17:00","a":31,"p":30},{"t":"2020-10-28T20:00","a":34,"p":33},{"t":"2020-10-28T22:00","a":25,"p":25},
      {"t":"2020-10-29T00:00","a":19,"p":19},{"t":"2020-10-29T03:00","a":16,"p":16},{"t":"2020-10-29T06:00","a":15,"p":15},{"t":"2020-10-29T07:00","a":37,"p":35},{"t":"2020-10-29T08:00","a":71,"p":66},{"t":"2020-10-29T09:00","a":60,"p":56},{"t":"2020-10-29T10:00","a":47,"p":45},{"t":"2020-10-29T11:00","a":37,"p":35},{"t":"2020-10-29T13:00","a":28,"p":27},{"t":"2020-10-29T15:00","a":29,"p":29},{"t":"2020-10-29T17:00","a":31,"p":31},{"t":"2020-10-29T20:00","a":34,"p":34},{"t":"2020-10-29T22:00","a":25,"p":25},
      {"t":"2020-10-30T00:00","a":19,"p":19},{"t":"2020-10-30T03:00","a":16,"p":16},{"t":"2020-10-30T06:00","a":15,"p":15},{"t":"2020-10-30T07:00","a":40,"p":35},{"t":"2020-10-30T08:00","a":77,"p":66},{"t":"2020-10-30T09:00","a":65,"p":56},{"t":"2020-10-30T10:00","a":50,"p":43},{"t":"2020-10-30T11:00","a":38,"p":33},{"t":"2020-10-30T13:00","a":28,"p":24},{"t":"2020-10-30T15:00","a":31,"p":27},{"t":"2020-10-30T17:00","a":33,"p":31},{"t":"2020-10-30T20:00","a":37,"p":36},{"t":"2020-10-30T22:00","a":27,"p":26},
      {"t":"2020-10-31T00:00","a":20,"p":20},{"t":"2020-10-31T03:00","a":16,"p":16},{"t":"2020-10-31T06:00","a":15,"p":15},{"t":"2020-10-31T07:00","a":39,"p":38},{"t":"2020-10-31T08:00","a":74,"p":73},{"t":"2020-10-31T09:00","a":64,"p":63},{"t":"2020-10-31T10:00","a":51,"p":50},{"t":"2020-10-31T11:00","a":41,"p":39},{"t":"2020-10-31T13:00","a":33,"p":31},{"t":"2020-10-31T15:00","a":34,"p":32},{"t":"2020-10-31T17:00","a":35,"p":34},{"t":"2020-10-31T20:00","a":38,"p":38},{"t":"2020-10-31T22:00","a":27,"p":27},
      {"t":"2020-11-01T00:00","a":20,"p":20},{"t":"2020-11-01T03:00","a":15,"p":16},{"t":"2020-11-01T06:00","a":15,"p":15},{"t":"2020-11-01T07:00","a":37,"p":39},{"t":"2020-11-01T08:00","a":70,"p":74},{"t":"2020-11-01T09:00","a":60,"p":63},{"t":"2020-11-01T10:00","a":47,"p":49},{"t":"2020-11-01T11:00","a":36,"p":38},{"t":"2020-11-01T13:00","a":28,"p":29},{"t":"2020-11-01T15:00","a":30,"p":30},{"t":"2020-11-01T17:00","a":32,"p":32},{"t":"2020-11-01T20:00","a":36,"p":36},{"t":"2020-11-01T22:00","a":26,"p":26},
      {"t":"2020-11-02T00:00","a":19,"p":19},{"t":"2020-11-02T03:00","a":15,"p":15},{"t":"2020-11-02T06:00","a":15,"p":15},{"t":"2020-11-02T07:00","a":37,"p":35},{"t":"2020-11-02T08:00","a":70,"p":64},{"t":"2020-11-02T09:00","a":60,"p":54},{"t":"2020-11-02T10:00","a":47,"p":43},{"t":"2020-11-02T11:00","a":36,"p":33},{"t":"2020-11-02T13:00","a":28,"p":25},{"t":"2020-11-02T15:00","a":31,"p":28},{"t":"2020-11-02T17:00","a":34,"p":31},{"t":"2020-11-02T20:00","a":40,"p":37},{"t":"2020-11-02T22:00","a":28,"p":27},
      {"t":"2020-11-03T00:00","a":21,"p":20},{"t":"2020-11-03T03:00","a":16,"p":16},{"t":"2020-11-03T06:00","a":15,"p":15},{"t":"2020-11-03T07:00","a":41,"p":35},{"t":"2020-11-03T08:00","a":80,"p":66},{"t":"2020-11-03T09:00","a":68,"p":57},{"t":"2020-11-03T10:00","a":53,"p":45},{"t":"2020-11-03T11:00","a":40,"p":36},{"t":"2020-11-03T13:00","a":30,"p":28},{"t":"2020-11-03T15:00","a":33,"p":31},{"t":"2020-11-03T17:00","a":37,"p":35},{"t":"2020-11-03T20:00","a":44,"p":42},{"t":"2020-11-03T22:00","a":31,"p":30},
      {"t":"2020-11-04T00:00","a":22,"p":21},{"t":"2020-11-04T03:00","a":16,"p":16},{"t":"2020-11-04T06:00","a":15,"p":15},{"t":"2020-11-04T07:00","a":43,"p":40},{"t":"2020-11-04T08:00","a":86,"p":78},{"t":"2020-11-04T09:00","a":74,"p":65},{"t":"2020-11-04T10:00","a":59,"p":49},{"t":"2020-11-04T11:00","a":46,"p":36},{"t":"2020-11-04T13:00","a":36,"p":25},{"t":"2020-11-04T15:00","a":40,"p":29},{"t":"2020-11-04T17:00","a":45,"p":35},{"t":"2020-11-04T20:00","a":55,"p":44},{"t":"2020-11-04T22:00","a":36,"p":30},
      {"t":"2020-11-05T00:00","a":24,"p":22},{"t":"2020-11-05T03:00","a":17,"p":16},{"t":"2020-11-05T06:00","a":16,"p":15},{"t":"2020-11-05T07:00","a":58,"p":50},{"t":"2020-11-05T08:00","a":120,"p":99},{"t":"2020-11-05T09:00","a":100,"p":83},{"t":"2020-11-05T10:00","a":76,"p":63},{"t":"2020-11-05T11:00","a":56,"p":46},{"t":"2020-11-05T13:00","a":40,"p":33},{"t":"2020-11-05T15:00","a":44,"p":37},{"t":"2020-11-05T17:00","a":48,"p":42},{"t":"2020-11-05T20:00","a":56,"p":50},{"t":"2020-11-05T22:00","a":37,"p":34},
      {"t":"2020-11-06T00:00","a":25,"p":24},{"t":"2020-11-06T03:00","a":17,"p":16},{"t":"2020-11-06T06:00","a":16,"p":15},{"t":"2020-11-06T07:00","a":58,"p":55},{"t":"2020-11-06T08:00","a":122,"p":114},{"t":"2020-11-06T09:00","a":103,"p":95},{"t":"2020-11-06T10:00","a":81,"p":71},{"t":"2020-11-06T11:00","a":62,"p":52},{"t":"2020-11-06T13:00","a":47,"p":36},{"t":"2020-11-06T15:00","a":51,"p":42},{"t":"2020-11-06T17:00","a":56,"p":48},{"t":"2020-11-06T20:00","a":64,"p":58},{"t":"2020-11-06T22:00","a":42,"p":38},
      {"t":"2020-11-06T23:00","a":26,"p":25},{"t":"2020-11-07T02:00","a":17,"p":16},{"t":"2020-11-07T05:00","a":16,"p":15},{"t":"2020-11-07T06:00","a":70,"p":64},{"t":"2020-11-07T07:00","a":154,"p":138},{"t":"2020-11-07T08:00","a":130,"p":115},{"t":"2020-11-07T09:00","a":101,"p":88},{"t":"2020-11-07T10:00","a":76,"p":65},{"t":"2020-11-07T12:00","a":57,"p":47},{"t":"2020-11-07T14:00","a":58,"p":50},{"t":"2020-11-07T16:00","a":60,"p":55},{"t":"2020-11-07T19:00","a":64,"p":61},{"t":"2020-11-07T21:00","a":42,"p":40},
      {"t":"2020-11-07T23:00","a":24,"p":24},{"t":"2020-11-08T02:00","a":18,"p":17},{"t":"2020-11-08T05:00","a":17,"p":16},{"t":"2020-11-08T06:00","a":50,"p":64},{"t":"2020-11-08T07:00","a":101,"p":136},{"t":"2020-11-08T08:00","a":87,"p":116},{"t":"2020-11-08T09:00","a":70,"p":93},{"t":"2020-11-08T10:00","a":55,"p":73},{"t":"2020-11-08T12:00","a":44,"p":57},{"t":"2020-11-08T14:00","a":48,"p":58},{"t":"2020-11-08T16:00","a":50,"p":58},{"t":"2020-11-08T19:00","a":55,"p":62},{"t":"2020-11-08T21:00","a":38,"p":40},
      {"t":"2020-11-08T23:00","a":23,"p":24},{"t":"2020-11-09T02:00","a":17,"p":17},{"t":"2020-11-09T05:00","a":16,"p":16},{"t":"2020-11-09T06:00","a":49,"p":46},{"t":"2020-11-09T07:00","a":98,"p":92},{"t":"2020-11-09T08:00","a":86,"p":78},{"t":"2020-11-09T09:00","a":72,"p":62},{"t":"2020-11-09T10:00","a":60,"p":48},{"t":"2020-11-09T12:00","a":50,"p":37},{"t":"2020-11-09T14:00","a":50,"p":38},{"t":"2020-11-09T16:00","a":51,"p":40},{"t":"2020-11-09T19:00","a":52,"p":44},{"t":"2020-11-09T21:00","a":36,"p":32},
      {"t":"2020-11-09T23:00","a":23,"p":22},{"t":"2020-11-10T02:00","a":17,"p":17},{"t":"2020-11-10T05:00","a":16,"p":16},{"t":"2020-11-10T06:00","a":65,"p":50},{"t":"2020-11-10T07:00","a":138,"p":99},{"t":"2020-11-10T08:00","a":114,"p":84},{"t":"2020-11-10T09:00","a":85,"p":67},{"t":"2020-11-10T10:00","a":61,"p":52},{"t":"2020-11-10T12:00","a":42,"p":40},{"t":"2020-11-10T14:00","a":48,"p":44},{"t":"2020-11-10T16:00","a":54,"p":48},{"t":"2020-11-10T19:00","a":64,"p":55},{"t":"2020-11-10T21:00","a":42,"p":38},
      {"t":"2020-11-10T23:00","a":25,"p":24},{"t":"2020-11-11T02:00","a":18,"p":17},{"t":"2020-11-11T05:00","a":17,"p":16},{"t":"2020-11-11T06:00","a":72,"p":66},{"t":"2020-11-11T07:00","a":154,"p":141},{"t":"2020-11-11T08:00","a":133,"p":118},{"t":"2020-11-11T09:00","a":108,"p":91},{"t":"2020-11-11T10:00","a":87,"p":68},{"t":"2020-11-11T12:00","a":68,"p":50},{"t":"2020-11-11T14:00","a":66,"p":58},{"t":"2020-11-11T16:00","a":68,"p":68},{"t":"2020-11-11T19:00","a":69,"p":75},{"t":"2020-11-11T21:00","a":45,"p":46},
      {"t":"2020-11-11T23:00","a":25,"p":26},{"t":"2020-11-12T02:00","a":18,"p":18},{"t":"2020-11-12T05:00","a":17,"p":17},{"t":"2020-11-12T06:00","a":56,"p":72},{"t":"2020-11-12T07:00","a":114,"p":155},{"t":"2020-11-12T08:00","a":101,"p":131},{"t":"2020-11-12T09:00","a":85,"p":103},{"t":"2020-11-12T10:00","a":72,"p":79},{"t":"2020-11-12T12:00","a":62,"p":60},{"t":"2020-11-12T14:00","a":62,"p":60},{"t":"2020-11-12T16:00","a":64,"p":60},{"t":"2020-11-12T19:00","a":66,"p":62},{"t":"2020-11-12T21:00","a":44,"p":42},
      {"t":"2020-11-12T23:00","a":25,"p":24},{"t":"2020-11-13T02:00","a":18,"p":17},{"t":"2020-11-13T05:00","a":17,"p":16},{"t":"2020-11-13T06:00","a":70,"p":58},{"t":"2020-11-13T07:00","a":150,"p":122},{"t":"2020-11-13T08:00","a":130,"p":106},{"t":"2020-11-13T09:00","a":105,"p":87},{"t":"2020-11-13T10:00","a":85,"p":71},{"t":"2020-11-13T12:00","a":69,"p":58},{"t":"2020-11-13T14:00","a":68,"p":56},{"t":"2020-11-13T16:00","a":66,"p":55},{"t":"2020-11-13T19:00","a":66,"p":53},{"t":"2020-11-13T21:00","a":44,"p":38},
      {"t":"2020-11-13T23:00","a":25,"p":23},{"t":"2020-11-14T02:00","a":18,"p":17},{"t":"2020-11-14T05:00","a":17,"p":16},{"t":"2020-11-14T06:00","a":67,"p":63},{"t":"2020-11-14T07:00","a":140,"p":132},{"t":"2020-11-14T08:00","a":118,"p":116},{"t":"2020-11-14T09:00","a":90,"p":97},{"t":"2020-11-14T10:00","a":68,"p":81},{"t":"2020-11-14T12:00","a":50,"p":68},{"t":"2020-11-14T14:00","a":56,"p":67},{"t":"2020-11-14T16:00","a":62,"p":66},{"t":"2020-11-14T19:00","a":70,"p":69},{"t":"2020-11-14T21:00","a":46,"p":45},
      {"t":"2020-11-14T23:00","a":26,"p":26},{"t":"2020-11-15T02:00","a":18,"p":18},{"t":"2020-11-15T05:00","a":17,"p":17},{"t":"2020-11-15T06:00","a":70,"p":71},{"t":"2020-11-15T07:00","a":150,"p":152},{"t":"2020-11-15T08:00","a":131,"p":131},{"t":"2020-11-15T09:00","a":107,"p":106},{"t":"2020-11-15T10:00","a":88,"p":85},{"t":"2020-11-15T12:00","a":72,"p":68},{"t":"2020-11-15T14:00","a":72,"p":67},{"t":"2020-11-15T16:00","a":72,"p":66},{"t":"2020-11-15T19:00","a":75,"p":69},{"t":"2020-11-15T21:00","a":48,"p":46},
      {"t":"2020-11-15T23:00","a":26,"p":25},{"t":"2020-11-16T02:00","a":18,"p":18},{"t":"2020-11-16T05:00","a":17,"p":17},{"t":"2020-11-16T06:00","a":73,"p":70},{"t":"2020-11-16T07:00","a":157,"p":150},{"t":"2020-11-16T08:00","a":133,"p":127},{"t":"2020-11-16T09:00","a":104,"p":99},{"t":"2020-11-16T10:00","a":79,"p":76},{"t":"2020-11-16T12:00","a":60,"p":58},{"t":"2020-11-16T14:00","a":63,"p":61},{"t":"2020-11-16T16:00","a":66,"p":64},{"t":"2020-11-16T19:00","a":74,"p":72},{"t":"2020-11-16T21:00","a":58,"p":55},{"t":"2020-11-16T23:00","a":45,"p":42}
    ]
  },
  "resolve": {"scale": {"color": "independent", "strokeDash": "independent"}},
  "vconcat": [
    {
      "width": 1013,
      "height": 176,
      "title": {"text": "(a)"},
      "layer": [
        {
          "data": {"name": "season"},
          "transform": [{"fold": ["a", "p"], "as": ["series", "kwth"]}],
          "mark": {"type": "line", "strokeWidth": 1.7, "clip": true},
          "encoding": {
            "x": {
              "field": "t", "type": "temporal",
              "scale": {"domain": [{"year": 2020, "month": 7, "date": 10, "hours": 6, "minutes": 30}, {"year": 2020, "month": 12, "date": 29, "hours": 21, "minutes": 40}]},
              "axis": {"title": null, "format": "%b-%Y",
                "values": [{"year": 2020, "month": 8, "date": 1}, {"year": 2020, "month": 9, "date": 1}, {"year": 2020, "month": 10, "date": 1}, {"year": 2020, "month": 11, "date": 1}, {"year": 2020, "month": 12, "date": 1}]}
            },
            "y": {
              "field": "kwth", "type": "quantitative",
              "scale": {"domain": [4, 193], "nice": false},
              "axis": {"title": "Heat Demand (kWth)", "values": [50, 100, 150]}
            },
            "color": {
              "field": "series", "type": "nominal",
              "scale": {"domain": ["a", "p"], "range": ["#0072BD", "#D95319"]},
              "legend": {"title": null, "labelExpr": "datum.label == 'a' ? 'Actual' : 'Predicted'"}
            },
            "strokeDash": {
              "field": "series", "type": "nominal",
              "scale": {"domain": ["a", "p"], "range": [[1, 0], [6, 4]]},
              "legend": {"title": null, "labelExpr": "datum.label == 'a' ? 'Actual' : 'Predicted'"}
            }
          }
        },
        {
          "data": {"values": []},
          "mark": {"type": "point", "opacity": 0},
          "encoding": {
            "x": {"field": "t", "type": "temporal",
              "axis": {"orient": "top", "labels": false, "domain": false, "title": null,
                "values": [{"year": 2020, "month": 8, "date": 1}, {"year": 2020, "month": 9, "date": 1}, {"year": 2020, "month": 10, "date": 1}, {"year": 2020, "month": 11, "date": 1}, {"year": 2020, "month": 12, "date": 1}]}},
            "y": {"field": "kwth", "type": "quantitative",
              "axis": {"orient": "right", "labels": false, "domain": false, "title": null, "values": [50, 100, 150]}}
          }
        }
      ],
      "resolve": {"axis": {"x": "independent", "y": "independent"}}
    },
    {
      "width": 1013,
      "height": 175,
      "title": {"text": "(b)"},
      "layer": [
        {
          "data": {"name": "detail"},
          "transform": [{"fold": ["a", "p"], "as": ["series", "kwth"]}],
          "mark": {"type": "line", "strokeWidth": 1.9, "clip": true},
          "encoding": {
            "x": {
              "field": "t", "type": "temporal",
              "scale": {"domain": [{"year": 2020, "month": 10, "date": 21, "hours": 22, "minutes": 25}, {"year": 2020, "month": 11, "date": 16, "hours": 22, "minutes": 20}]},
              "axis": {"title": null, "format": "%d-%b-%Y",
                "values": [{"year": 2020, "month": 10, "date": 25}, {"year": 2020, "month": 11, "date": 1}, {"year": 2020, "month": 11, "date": 8}, {"year": 2020, "month": 11, "date": 15}]}
            },
            "y": {
              "field": "kwth", "type": "quantitative",
              "scale": {"domain": [2, 167], "nice": false},
              "axis": {"title": "Heat Demand (kWth)", "values": [50, 100, 150]}
            },
            "color": {
              "field": "series", "type": "nominal",
              "scale": {"domain": ["a", "p"], "range": ["#0072BD", "#D95319"]},
              "legend": null
            },
            "strokeDash": {
              "field": "series", "type": "nominal",
              "scale": {"domain": ["a", "p"], "range": [[1, 0], [6, 4]]},
              "legend": null
            }
          }
        },
        {
          "data": {"values": []},
          "mark": {"type": "point", "opacity": 0},
          "encoding": {
            "x": {"field": "t", "type": "temporal",
              "axis": {"orient": "top", "labels": false, "domain": false, "title": null,
                "values": [{"year": 2020, "month": 10, "date": 25}, {"year": 2020, "month": 11, "date": 1}, {"year": 2020, "month": 11, "date": 8}, {"year": 2020, "month": 11, "date": 15}]}},
            "y": {"field": "kwth", "type": "quantitative",
              "axis": {"orient": "right", "labels": false, "domain": false, "title": null, "values": [50, 100, 150]}}
          }
        }
      ],
      "resolve": {"axis": {"x": "independent", "y": "independent"}}
    }
  ]
}
